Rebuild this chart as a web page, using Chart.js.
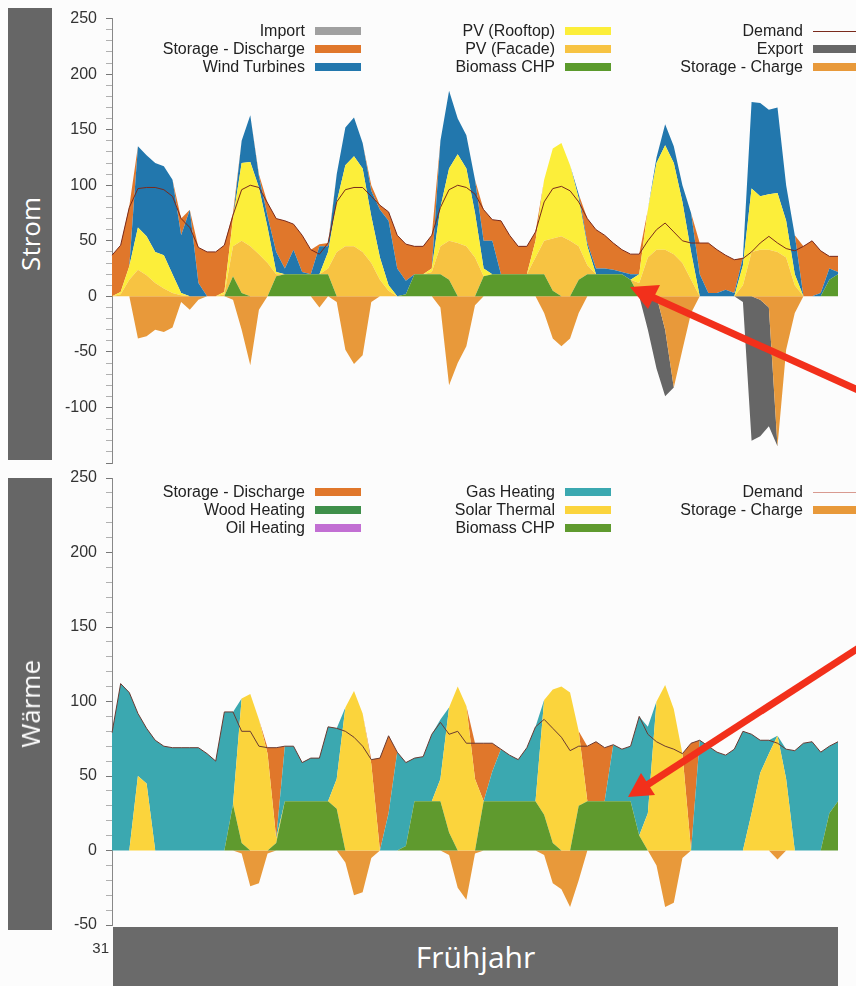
<!DOCTYPE html>
<html>
<head>
<meta charset="utf-8">
<script src="https://cdn.jsdelivr.net/npm/chart.js@4.4.1/dist/chart.umd.min.js"></script>
<style>
  body { margin: 0; background: #fcfcfc; }
  #page { position: relative; width: 856px; height: 986px; overflow: hidden; background: #fcfcfc; font-family: 'Liberation Sans', Arial, sans-serif; }
  canvas { position: absolute; left: 0; }
  #cStrom { top: 0; }
  #cWaerme { top: 459px; }
  .side { position: absolute; left: 8px; width: 44px; background: #666; display: flex; align-items: center; justify-content: center; }
  .side span { writing-mode: vertical-rl; transform: rotate(180deg); color: #fff; font-family: 'Open Sans', 'Noto Sans', sans-serif; font-size: 26px; }
  .lg-text { position: absolute; width: 220px; text-align: right; font-size: 16px; line-height: 18px; color: #222; white-space: nowrap; }
  .lg-box { position: absolute; width: 46px; height: 8px; }
  .lg-line { position: absolute; width: 46px; height: 1px; }
  #season { position: absolute; left: 113px; top: 927px; width: 725px; height: 59px; background: #6a6a6a; color: #fff; font-family: 'Open Sans', 'Noto Sans', sans-serif; font-size: 30px; line-height: 59px; text-align: center; }
  #day { position: absolute; left: 60px; top: 939px; width: 49px; text-align: right; font-size: 15px; color: #333; }
  #arrows { position: absolute; left: 0; top: 0; }
</style>
</head>
<body>
<div id="page">
  <canvas id="cStrom" width="856" height="482"></canvas>
  <canvas id="cWaerme" width="856" height="485"></canvas>
  <div class="side" style="top:8px;height:452px;"><span>Strom</span></div>
  <div class="side" style="top:478px;height:452px;"><span>Wärme</span></div>
  <div id="day">31</div>
  <div id="season">Frühjahr</div>
  <svg id="arrows" width="856" height="986">
    <line x1="652" y1="297" x2="880" y2="400" stroke="#f2301b" stroke-width="7"/>
    <polygon points="630,287 648,309 660,285" fill="#f2301b"/>
    <line x1="647" y1="785" x2="880" y2="634" stroke="#f2301b" stroke-width="7"/>
    <polygon points="628,797 655,795 641,773" fill="#f2301b"/>
  </svg>
</div>
<script>
// hours since start of the week, one value every 2 hours
var hours = [0,2,4,6,8,10,12,14,16,18,20,22,24,26,28,30,32,34,36,38,40,42,44,46,48,50,52,54,56,58,60,62,64,66,68,70,72,74,76,78,80,82,84,86,88,90,92,94,96,98,100,102,104,106,108,110,112,114,116,118,120,122,124,126,128,130,132,134,136,138,140,142,144,146,148,150,152,154,156,158,160,162,164,166,168];

// ---- Strom ----
var stromBiomass = [0,0,0,0,0,0,0,0,0,0, 0,0,0,0,18,3,0,0,0,18, 20,20,20,20,20,20,0,0,0,0, 0,0,0,0,2,20,20,20,20,15, 0,0,0,18,20,20,20,20,20,20, 20,5,0,0,15,20,20,20,20,20, 15,0,0,0,0,0,0,0,0,0, 0,0,0,0,0,0,0,0,0,0, 0,0,0,15,20];
var stromFacade = [0,2,15,24,19,12,7,3,1,0, 0,0,0,2,27,47,45,38,30,2, 0,0,0,0,0,5,40,45,45,40, 30,15,5,0,0,0,0,2,25,35, 48,45,35,0,0,0,0,0,0,15, 30,47,54,50,30,8,0,0,0,0, 0,12,35,42,42,38,30,15,0,0, 0,0,0,10,40,42,42,40,35,10, 0,0,0,0,0];
var stromRooftop = [0,2,12,38,35,28,30,17,2,0, 0,0,0,2,25,70,76,60,32,2, 0,0,0,0,0,15,45,73,81,75, 42,20,5,0,0,0,0,3,35,65, 80,70,40,7,0,0,0,0,0,15, 55,81,84,68,43,17,0,0,0,0, 0,8,43,78,94,82,55,25,0,0, 0,0,0,18,57,48,50,53,33,10, 0,0,0,0,0];
var stromWind = [0,0,0,73,73,80,80,85,52,78, 12,0,0,0,0,20,42,10,10,18, 5,22,2,0,25,5,25,34,35,23, 23,43,58,25,12,0,0,0,60,70, 32,30,30,25,30,0,0,0,0,0, 0,0,0,0,4,3,5,5,4,2, 5,0,0,5,19,15,15,35,20,3, 3,6,3,7,78,84,76,77,32,35, 0,0,3,10,2];
var stromDischarge = [37,42,54,0,0,0,0,0,15,0, 32,40,40,42,5,0,0,2,12,30, 43,23,33,22,2,3,0,0,0,0, 5,4,8,30,33,25,25,30,0,0, 0,0,0,28,19,48,35,25,25,8, 0,0,0,0,0,22,35,30,24,20, 18,18,0,0,0,0,0,0,28,45, 39,31,30,0,0,0,0,0,0,0, 45,50,38,11,14];
var stromImport = [0,0,0,0,0,0,0,0,0,0, 0,0,0,0,0,0,0,0,0,0, 0,0,0,0,0,0,0,0,0,0, 0,0,0,0,0,0,0,0,0,0, 0,0,0,0,0,0,0,0,0,0, 0,0,0,0,0,0,0,0,0,0, 0,0,0,0,0,0,0,0,0,0, 0,0,0,0,0,0,0,0,0,0, 0,0,0,0,0];
var stromDemand = [37,46,80,97,98,98,96,90,70,62, 44,40,40,46,73,96,100,98,84,70, 68,65,55,42,38,48,85,96,98,98, 90,82,76,55,47,45,45,55,80,96, 100,98,92,78,69,68,55,45,45,58, 85,97,99,95,85,70,60,55,48,42, 38,38,50,60,66,58,50,48,48,48, 42,37,33,34,40,48,54,48,43,41, 45,50,41,36,36];
var stromCharge = [0,0,0,-38,-36,-30,-32,-28,-5,-12, -3,0,0,0,-3,-30,-62,-12,0,0, 0,0,0,0,-10,0,-5,-48,-61,-53, -5,0,0,0,0,0,0,0,-10,-80, -60,-45,-8,0,0,0,0,0,0,0, -15,-38,-45,-38,-15,0,0,0,0,0, 0,0,0,0,-30,-82,-48,-15,0,0, 0,0,0,0,0,-3,-10,-135,-48,-15, 0,0,0,0,0];
var stromExport = [0,0,0,0,0,0,0,0,0,0, 0,0,0,0,0,0,0,0,0,0, 0,0,0,0,0,0,0,0,0,0, 0,0,0,0,0,0,0,0,0,0, 0,0,0,0,0,0,0,0,0,0, 0,0,0,0,0,0,0,0,0,0, 0,0,-30,-65,-60,0,0,0,0,0, 0,0,0,-5,-130,-123,-107,0,0,0, 0,0,0,0,0];

// ---- Wärme ----
var waermeBiomass = [0,0,0,0,0,0,0,0,0,0, 0,0,0,0,31,5,0,0,0,5, 33,33,33,33,33,33,28,0,0,0, 0,0,0,0,3,33,33,33,33,12, 0,0,0,33,33,33,33,33,33,33, 24,5,0,0,30,33,33,33,33,33, 33,10,0,0,0,0,0,0,0,0, 0,0,0,0,0,0,0,0,0,0, 0,0,0,25,33];
var waermeSolar = [0,0,0,50,45,0,0,0,0,0, 0,0,0,0,0,97,105,88,65,3, 0,0,0,0,0,0,20,96,107,92, 58,0,0,0,0,0,0,0,15,84, 110,97,48,0,0,0,0,0,0,0, 77,103,110,106,50,0,0,0,0,0, 0,0,25,100,111,95,65,0,0,0, 0,0,0,0,25,52,65,77,48,0, 0,0,0,0,0];
var waermeGas = [79,112,106,42,37,74,70,69,69,69, 69,65,60,93,62,0,0,0,0,0, 37,37,26,29,29,50,34,0,0,0, 0,0,25,66,56,29,30,45,40,0, 0,0,0,0,20,35,31,28,36,50, 0,0,0,0,0,0,0,0,38,35, 37,80,58,0,0,0,0,0,74,70, 66,64,68,80,53,22,9,0,20,67, 72,73,66,45,40];
var waermeDischarge = [0,0,0,0,0,0,0,0,0,0, 0,0,0,0,0,0,0,0,4,61, 0,0,0,0,0,0,0,0,0,0, 3,62,52,0,0,0,0,0,0,0, 0,0,24,39,19,0,0,0,0,0, 0,0,0,0,0,37,40,36,0,0, 0,0,0,0,0,0,0,72,0,0, 0,0,0,0,0,0,0,0,0,0, 0,0,0,0,0];
var waermeWood = [0,0,0,0,0,0,0,0,0,0, 0,0,0,0,0,0,0,0,0,0, 0,0,0,0,0,0,0,0,0,0, 0,0,0,0,0,0,0,0,0,0, 0,0,0,0,0,0,0,0,0,0, 0,0,0,0,0,0,0,0,0,0, 0,0,0,0,0,0,0,0,0,0, 0,0,0,0,0,0,0,0,0,0, 0,0,0,0,0];
var waermeOil = [0,0,0,0,0,0,0,0,0,0, 0,0,0,0,0,0,0,0,0,0, 0,0,0,0,0,0,0,0,0,0, 0,0,0,0,0,0,0,0,0,0, 0,0,0,0,0,0,0,0,0,0, 0,0,0,0,0,0,0,0,0,0, 0,0,0,0,0,0,0,0,0,0, 0,0,0,0,0,0,0,0,0,0, 0,0,0,0,0];
var waermeDemand = [79,112,106,92,82,74,70,69,69,69, 69,65,60,93,93,80,80,70,69,69, 70,70,59,62,62,83,82,80,76,70, 61,62,77,66,59,62,63,78,86,78, 80,72,72,72,72,68,64,61,69,83, 88,82,76,67,70,70,73,69,71,68, 70,90,78,73,70,68,65,72,74,70, 66,64,68,80,78,74,74,72,68,67, 72,73,66,70,73];
var waermeCharge = [0,0,0,0,0,0,0,0,0,0, 0,0,0,0,0,-2,-24,-22,-2,0, 0,0,0,0,0,0,0,-8,-30,-28, -5,0,0,0,0,0,0,0,0,-3, -25,-33,-2,0,0,0,0,0,0,0, -3,-22,-26,-38,-20,0,0,0,0,0, 0,0,0,-10,-38,-35,-5,0,0,0, 0,0,0,0,0,0,0,-6,0,0, 0,0,0,0,0];

var yTicksStrom = [250, 200, 150, 100, 50, 0, -50, -100];
var yTicksWaerme = [250, 200, 150, 100, 50, 0, -50];

Chart.defaults.font.family = "'Liberation Sans', Arial, sans-serif";

function area(label, data, color, stack, fill) {
    return {
        label: label, data: data, stack: stack, fill: fill,
        backgroundColor: color, borderColor: color, borderWidth: 0,
        pointRadius: 0, tension: 0
    };
}

function demandLine(data, color) {
    return {
        label: 'Demand', data: data, stack: 'demand', fill: false,
        borderColor: color, borderWidth: 1, pointRadius: 0, tension: 0
    };
}

// the y labels add ~18.6px of room above and below, so both paddings stay >= 19
function drawChart(canvasId, datasets, yMin, shownTicks, padTop, padBottom) {
    return new Chart(document.getElementById(canvasId).getContext('2d'), {
        type: 'line',
        data: { labels: hours, datasets: datasets },
        options: {
            responsive: false,
            animation: false,
            events: [],
            layout: { padding: { top: padTop, bottom: padBottom, left: 0, right: 18 } },
            plugins: { legend: { display: false }, tooltip: { enabled: false } },
            scales: {
                x: { display: false, offset: false },
                y: {
                    stacked: true,
                    min: yMin, max: 250,
                    ticks: {
                        stepSize: 10, autoSkip: false, padding: 9, color: '#333',
                        font: { size: 16 },
                        callback: function (v) { return shownTicks.indexOf(v) >= 0 ? v : ''; }
                    },
                    grid: {
                        drawOnChartArea: false, tickLength: 6,
                        tickColor: function (ctx) { return ctx.tick && ctx.tick.value % 50 === 0 ? '#777' : '#b0b0b0'; }
                    },
                    border: { color: '#888' },
                    afterFit: function (scale) { scale.width = 112; }
                }
            }
        }
    });
}

drawChart('cStrom', [
    demandLine(stromDemand, '#7a2a1c'),
    area('Biomass CHP', stromBiomass, '#5b9a2c', 'pos', 'origin'),
    area('PV (Facade)', stromFacade, '#f7c342', 'pos', '-1'),
    area('PV (Rooftop)', stromRooftop, '#fcee3a', 'pos', '-1'),
    area('Wind Turbines', stromWind, '#2277ad', 'pos', '-1'),
    area('Storage - Discharge', stromDischarge, '#e0772b', 'pos', '-1'),
    area('Import', stromImport, '#a0a0a0', 'pos', '-1'),
    area('Storage - Charge', stromCharge, '#e8993a', 'neg', 'origin'),
    area('Export', stromExport, '#666666', 'neg', '-1')
], -150, yTicksStrom, 18, 19);

drawChart('cWaerme', [
    demandLine(waermeDemand, '#6a3a32'),
    area('Biomass CHP', waermeBiomass, '#5f9a2e', 'pos', 'origin'),
    area('Solar Thermal', waermeSolar, '#fbd43c', 'pos', '-1'),
    area('Gas Heating', waermeGas, '#3ba8b0', 'pos', '-1'),
    area('Storage - Discharge', waermeDischarge, '#e0772b', 'pos', '-1'),
    area('Wood Heating', waermeWood, '#3f8f4a', 'pos', '-1'),
    area('Oil Heating', waermeOil, '#c26fd3', 'pos', '-1'),
    area('Storage - Charge', waermeCharge, '#e8993a', 'neg', 'origin')
], -50, yTicksWaerme, 19, 19);

// legends: three columns, text right aligned in front of the swatch
function buildLegend(columns, rowCenters) {
    var page = document.getElementById('page');
    var swatchX = [315, 565, 813];
    columns.forEach(function (col, c) {
        col.forEach(function (item, r) {
            var cy = rowCenters[r];
            var t = document.createElement('div');
            t.className = 'lg-text';
            t.textContent = item[0];
            t.style.left = (swatchX[c] - 10 - 220) + 'px';
            t.style.top = (cy - 9) + 'px';
            page.appendChild(t);
            var s = document.createElement('div');
            s.className = item[2] === 'line' ? 'lg-line' : 'lg-box';
            s.style.background = item[1];
            s.style.left = swatchX[c] + 'px';
            s.style.top = (item[2] === 'line' ? cy : cy - 4) + 'px';
            page.appendChild(s);
        });
    });
}

buildLegend([
    [['Import', '#a0a0a0'], ['Storage - Discharge', '#e0772b'], ['Wind Turbines', '#2277ad']],
    [['PV (Rooftop)', '#fcee3a'], ['PV (Facade)', '#f7c342'], ['Biomass CHP', '#5b9a2c']],
    [['Demand', '#7a2a1c', 'line'], ['Export', '#666666'], ['Storage - Charge', '#e8993a']]
], [31, 49, 67]);

buildLegend([
    [['Storage - Discharge', '#e0772b'], ['Wood Heating', '#3f8f4a'], ['Oil Heating', '#c26fd3']],
    [['Gas Heating', '#3ba8b0'], ['Solar Thermal', '#fbd43c'], ['Biomass CHP', '#5f9a2e']],
    [['Demand', '#d89a90', 'line'], ['Storage - Charge', '#e8993a']]
], [492, 510, 528]);
</script>
</body>
</html>
